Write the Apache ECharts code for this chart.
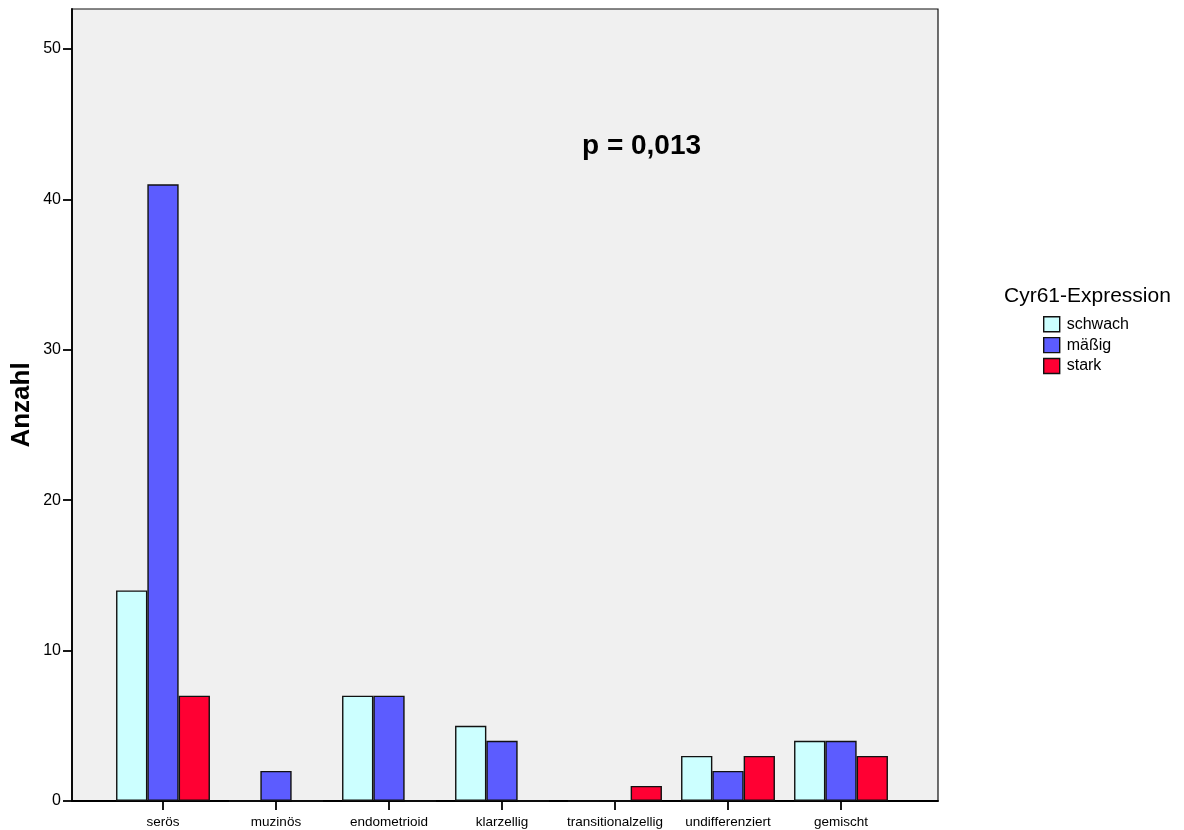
<!DOCTYPE html>
<html>
<head>
<meta charset="utf-8">
<script src="https://cdn.jsdelivr.net/npm/echarts@6/dist/echarts.min.js"></script>
<style>
  html, body { margin: 0; padding: 0; background: #fff; }
  #chart { width: 1184px; height: 830px; }
</style>
</head>
<body>
<div id="chart"></div>
<script>
const categories = ["serös", "muzinös", "endometrioid", "klarzellig", "transitionalzellig", "undifferenziert", "gemischt"];
const schwach = [14, 0, 7, 5, 0, 3, 4];
const maessig = [41, 2, 7, 4, 0, 2, 4];
const stark = [7, 0, 0, 0, 1, 3, 3];
const yTicks = [0, 10, 20, 30, 40, 50];

const font = "'Liberation Sans', Arial, sans-serif";
const yMax = 52.66;
const border = { borderColor: "#111", borderWidth: 1.4 };

const chart = echarts.init(document.getElementById("chart"));

function barSeries(name, data, color) {
  return {
    name: name,
    type: "bar",
    xAxisIndex: 1,
    yAxisIndex: 1,
    data: data,
    barWidth: 31.3,
    barGap: "0%",
    itemStyle: Object.assign({ color: color }, border),
  };
}

chart.setOption({
  animation: false,
  textStyle: { fontFamily: font, color: "#000" },

  title: [
    {
      text: "p = 0,013",
      left: 582,
      top: 132,
      padding: 0,
      textStyle: { fontFamily: font, fontSize: 28, fontWeight: "bold", color: "#000" },
    },
    {
      text: "Cyr61-Expression",
      left: 1004,
      top: 286,
      padding: 0,
      textStyle: { fontFamily: font, fontSize: 21, fontWeight: "normal", color: "#000" },
    },
  ],

  legend: {
    orient: "vertical",
    left: 1043,
    top: 316,
    padding: 0,
    itemWidth: 16,
    itemHeight: 15,
    itemGap: 4.5,
    icon: "rect",
    itemStyle: border,
    textStyle: { fontFamily: font, fontSize: 16, color: "#000", padding: [0, 0, 0, 2] },
    data: ["schwach", "mäßig", "stark"],
  },

  grid: [
    // frame / background
    {
      left: 72, top: 9, width: 866, height: 792,
      outerBoundsMode: "none",
      containLabel: false,
      show: true,
      backgroundColor: "#f0f0f0",
      borderColor: "#111",
      borderWidth: 1.2,
    },
    // bars
    {
      left: 106.5, top: 9, right: 286.5, height: 792,
      outerBoundsMode: "none",
      containLabel: false,
    },
  ],

  xAxis: [
    {
      gridIndex: 0,
      type: "value",
      min: 0,
      max: 1,
      axisLine: { show: true, lineStyle: { color: "#000", width: 1.8 } },
      axisTick: { show: false },
      axisLabel: { show: false },
      splitLine: { show: false },
    },
    {
      gridIndex: 1,
      type: "category",
      data: categories,
      axisLine: { show: false },
      axisTick: { show: true, alignWithLabel: true, length: 9, lineStyle: { color: "#000", width: 1.8 } },
      axisLabel: { fontFamily: font, fontSize: 13.5, color: "#000", margin: 14, interval: 0 },
      splitLine: { show: false },
    },
  ],

  yAxis: [
    {
      gridIndex: 0,
      type: "value",
      min: 0,
      max: yMax,
      name: "Anzahl",
      nameLocation: "middle",
      nameGap: 37,
      nameMoveOverlap: false,
      nameTextStyle: { fontFamily: font, fontSize: 26, fontWeight: "bold", color: "#000" },
      axisLine: { show: true, lineStyle: { color: "#000", width: 1.8 } },
      axisTick: { show: true, length: 9, customValues: yTicks, lineStyle: { color: "#000", width: 1.8 } },
      axisLabel: { fontFamily: font, fontSize: 16, color: "#000", margin: 11, customValues: yTicks },
      splitLine: { show: false },
    },
    {
      gridIndex: 1,
      type: "value",
      min: 0,
      max: yMax,
      show: false,
      splitLine: { show: false },
    },
  ],

  series: [
    barSeries("schwach", schwach, "#ccffff"),
    barSeries("mäßig", maessig, "#5c5cff"),
    barSeries("stark", stark, "#ff0033"),
  ],
});

window.addEventListener("resize", () => chart.resize());
</script>
</body>
</html>
